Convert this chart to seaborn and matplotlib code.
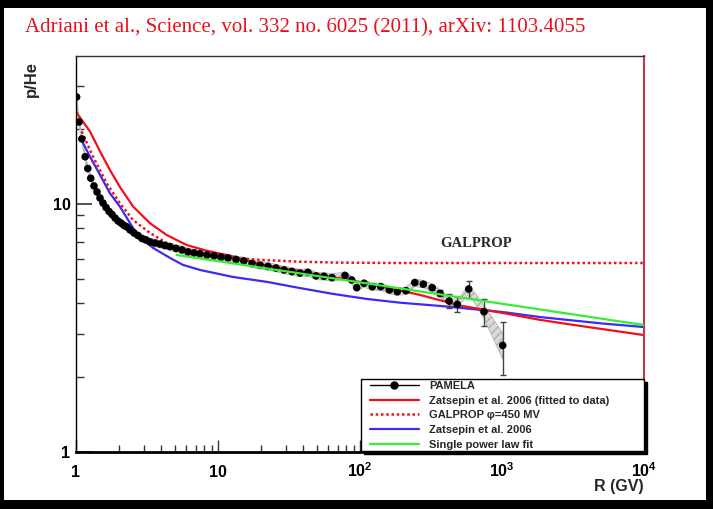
import matplotlib
matplotlib.use("Agg")
import matplotlib.pyplot as plt
import matplotlib.ticker as mticker
from matplotlib.lines import Line2D
from matplotlib.patches import Rectangle
import numpy as np
import seaborn as sns

title = "Adriani et al., Science, vol. 332 no. 6025 (2011), arXiv: 1103.4055"

# PAMELA p/He ratio vs rigidity
pamela_R = [1.01, 1.05, 1.10, 1.16, 1.21, 1.27,
            1.339, 1.406, 1.476, 1.549, 1.627, 1.708, 1.793, 1.883, 1.976, 2.075,
            2.178, 2.287, 2.401, 2.562, 2.733, 2.916, 3.111, 3.320, 3.600, 3.904,
            4.234, 4.592, 5.06, 5.58, 6.15, 6.78, 7.47, 8.37, 9.37, 10.5,
            11.76, 13.4, 15.2, 17.35, 19.76, 22.5, 25.6, 29.2, 33.2, 37.8,
            43.0, 49.0, 55.8, 63.5, 78.4,
            87.4, 94.8, 106.7, 122, 140, 161, 183, 211,
            243, 279, 322, 366, 424, 484, 583, 747, 1012]
pamela_ratio = [27.0, 21.4, 18.3, 15.5, 13.9, 12.7,
                11.82, 11.18, 10.57, 10.09, 9.68, 9.33, 9.07, 8.78, 8.54, 8.38,
                8.19, 8.08, 7.86, 7.64, 7.46, 7.26, 7.16, 7.03, 6.96, 6.89,
                6.80, 6.73, 6.62, 6.53, 6.41, 6.35, 6.30, 6.23, 6.18, 6.11,
                6.06, 5.97, 5.89, 5.75, 5.67, 5.60, 5.52, 5.42, 5.34, 5.27,
                5.30, 5.13, 5.11, 5.05, 5.15,
                4.94, 4.60, 4.79, 4.64, 4.64, 4.50, 4.43, 4.47,
                4.82, 4.75, 4.60, 4.36, 4.06, 3.94, 4.54, 3.68, 2.69]
pamela_err = [0.0] * 59 + [0.08, 0.08, 0.09, 0.12, 0.26, 0.28, 0.37, 0.46, 0.65]

# Zatsepin et al. 2006 fitted to data (red)
zfit_R = [1.0, 1.255, 1.476, 1.735, 2.04, 2.53, 3.32, 4.35, 6.01, 8.33,
          12.8, 20, 50, 100, 200, 264, 500, 700, 1000, 1853, 3000, 10000]
zfit_ratio = [23.5, 19.6, 16.3, 13.7, 11.7, 9.75, 8.36, 7.5, 6.83, 6.48,
              6.13, 5.72, 5.2, 4.85, 4.45, 4.30, 3.90, 3.77, 3.64, 3.41, 3.27, 2.96]

# GALPROP phi=450 MV (red dotted)
galprop_R = [1.097, 1.32, 1.645, 2.04, 2.52, 3.32, 4.35, 6.01, 9.22, 12.2,
             20, 37.8, 72, 191, 10000]
galprop_ratio = [19.6, 15.5, 12.1, 10.07, 8.62, 7.64, 6.96, 6.42, 6.18, 6.08,
                 5.95, 5.85, 5.80, 5.78, 5.78]

# Zatsepin et al. 2006 (blue)
zats_R = [1.07, 1.255, 1.476, 1.735, 2.04, 2.53, 2.82, 3.49, 4.59, 5.67,
          7.46, 12.7, 22.2, 37.8, 64.5, 112, 191, 367, 1000, 1853, 5000, 10000]
zats_ratio = [18.6, 15.5, 13.1, 11.04, 9.75, 7.98, 7.38, 6.65, 6.06, 5.68,
              5.42, 5.08, 4.85, 4.58, 4.34, 4.14, 4.0, 3.88, 3.67, 3.5, 3.3, 3.19]

# single power law fit (green)
plaw_R = [5.1, 10, 100, 1000, 10000]
plaw_ratio = [6.23, 5.88, 4.83, 3.96, 3.25]

x_ticks = [1, 10, 100, 1000, 10000]
x_ticklabels = ["1", "10", r"$\mathbf{10^{2}}$", r"$\mathbf{10^{3}}$", r"$\mathbf{10^{4}}$"]
y_ticks = [1, 10]
y_ticklabels = ["1", "10"]

legend_labels = ["PAMELA", "Zatsepin et al. 2006 (fitted to data)", "GALPROP \u03c6=450 MV",
                 "Zatsepin et al. 2006", "Single power law fit"]

RED = "#f0101c"
BLUE = "#3b2cf0"
GREEN = "#33ee33"
DOTS = (0, (1, 1.1))

sns.set_style("white")
plt.rcParams["font.family"] = ["Liberation Sans", "DejaVu Sans"]
plt.rcParams["mathtext.fontset"] = "custom"
plt.rcParams["mathtext.rm"] = "Liberation Sans"
plt.rcParams["mathtext.bf"] = "Liberation Sans:bold"

fig = plt.figure(figsize=(7.13, 5.09), dpi=100, facecolor="black")
fig.add_artist(Rectangle((4 / 713, 9 / 509), 702 / 713, 492 / 509,
                         transform=fig.transFigure, facecolor="white",
                         edgecolor="none", zorder=0))
ax = fig.add_axes([76 / 713, 57 / 509, 568 / 713, 396 / 509])

# grey systematic band around the data
ratio_arr = np.array(pamela_ratio)
band = np.maximum(0.035 * ratio_arr, 0.5 * np.array(pamela_err))
ax.fill_between(pamela_R, ratio_arr - band, ratio_arr + band,
                facecolor="#d9d9d9", edgecolor="#b0b0b0", lw=0.5, hatch="////", zorder=1)

sns.lineplot(x=zats_R, y=zats_ratio, ax=ax, color=BLUE, lw=1.6, zorder=2)
sns.lineplot(x=zfit_R, y=zfit_ratio, ax=ax, color=RED, lw=1.6, zorder=2)
sns.lineplot(x=galprop_R, y=galprop_ratio, ax=ax, color=RED, lw=1.8,
             linestyle=DOTS, zorder=2)

err_idx = [i for i, e in enumerate(pamela_err) if e > 0]
ax.errorbar([pamela_R[i] for i in err_idx], [pamela_ratio[i] for i in err_idx],
            yerr=[pamela_err[i] for i in err_idx], fmt="none", ecolor="#444444",
            elinewidth=1, capsize=2.5, zorder=3)
sns.scatterplot(x=pamela_R, y=pamela_ratio, ax=ax, color="black", s=30,
                edgecolor="none", zorder=4)
sns.lineplot(x=plaw_R, y=plaw_ratio, ax=ax, color=GREEN, lw=1.6, zorder=5)

ax.set_xscale("log")
ax.set_yscale("log")
ax.set_xlim(1, 1e4)
ax.set_ylim(1, 39.5)

ax.set_xticks(x_ticks, x_ticklabels, fontweight="bold", va="baseline")
ax.xaxis.set_minor_locator(mticker.LogLocator(base=10, subs=np.arange(2, 10)))
ax.xaxis.set_minor_formatter(mticker.NullFormatter())
ax.set_yticks(y_ticks, y_ticklabels, fontweight="bold")
ax.yaxis.set_minor_locator(mticker.FixedLocator([2, 3, 4, 5, 6, 7, 8, 9, 20, 30]))
ax.yaxis.set_minor_formatter(mticker.NullFormatter())

ax.tick_params(which="both", direction="in", top=False, right=False,
               bottom=True, left=True, colors="#333333", labelcolor="black")
ax.tick_params(axis="x", which="major", length=9, width=1, pad=18, labelsize=11.5)
ax.tick_params(axis="x", which="minor", length=5, width=1)
ax.tick_params(axis="y", which="major", length=11.5, width=1.2, pad=4, labelsize=11.5)
ax.tick_params(axis="y", which="minor", length=6, width=1)

ax.spines["bottom"].set_linewidth(2)
ax.spines["bottom"].set_color("black")
ax.spines["left"].set_linewidth(1)
ax.spines["left"].set_color("black")
ax.spines["top"].set_linewidth(1)
ax.spines["top"].set_color("#333333")
ax.spines["right"].set_linewidth(1.5)
ax.spines["right"].set_color("#c03848")

ax.set_xlabel("R (GV)", loc="right", fontsize=11.5, fontweight="bold")
ax.xaxis.set_label_coords(1.0, -(486 - 452) / 396)
ax.xaxis.label.set_va("center")
ax.set_ylabel("p/He", loc="top", fontsize=12, fontweight="bold")
ax.yaxis.set_label_coords(-37 / 568, 1.0 - 5 / 396)

ax.text(656, 6.96, "GALPROP", family="Liberation Serif", weight="bold",
        fontsize=10.5, ha="center", va="center")
fig.text(25 / 713, 1 - 27.5 / 509, title, color="#e8101c",
         family="Liberation Serif", fontsize=15, ha="left", va="center")

# legend box with a ROOT-like drop shadow
box_x0, box_y0 = (361 - 76) / 568, (452 - 451) / 396
box_w, box_h = (644 - 361) / 568, (451 - 379) / 396
ax.add_patch(Rectangle((box_x0 + 3 / 568, box_y0 - 3 / 396), box_w, box_h,
                       transform=ax.transAxes, facecolor="black", edgecolor="black",
                       clip_on=False, zorder=8))
ax.add_patch(Rectangle((box_x0, box_y0), box_w, box_h, transform=ax.transAxes,
                       facecolor="white", edgecolor="black", lw=1,
                       clip_on=False, zorder=9))

handles = [
    Line2D([], [], color="black", lw=1, marker="o", ms=5),
    Line2D([], [], color=RED, lw=1.6),
    Line2D([], [], color=RED, lw=1.8, linestyle=DOTS),
    Line2D([], [], color=BLUE, lw=1.6),
    Line2D([], [], color=GREEN, lw=1.6),
]
leg = ax.legend(handles, legend_labels, loc="upper left",
                bbox_to_anchor=((370 - 76) / 568, (452 - 381) / 396),
                borderaxespad=0, borderpad=0, frameon=False,
                handlelength=4.4, handletextpad=0.9, labelspacing=0.42,
                prop={"size": 8, "weight": "bold"}, numpoints=1)
leg.set_zorder(11)

fig.savefig("out.png", dpi=100, facecolor="black")
